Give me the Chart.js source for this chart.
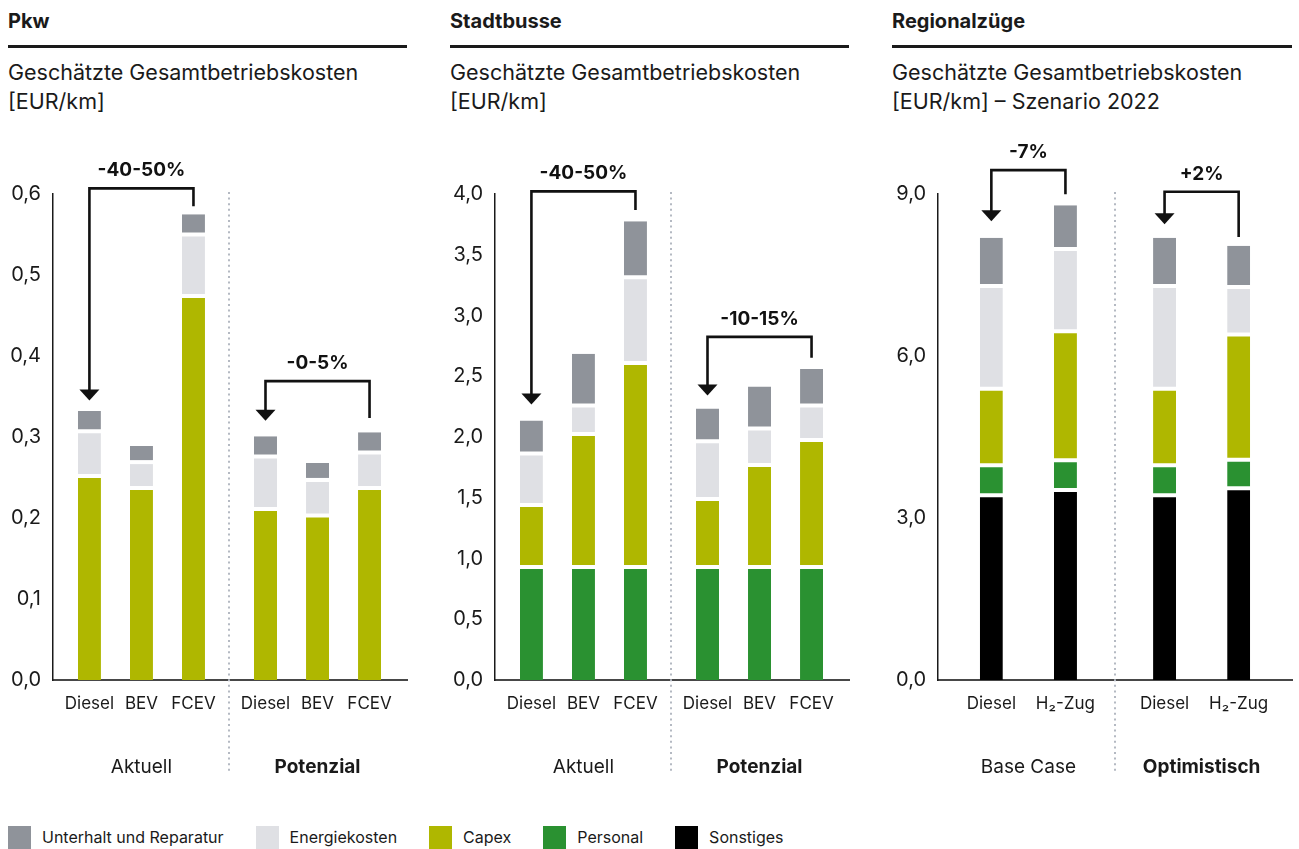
<!DOCTYPE html>
<html>
<head>
<meta charset="utf-8">
<script src="https://cdn.jsdelivr.net/npm/chart.js@4.4.1/dist/chart.umd.min.js"></script>
<style>
  html, body { margin:0; padding:0; background:#fff; }
  body { width:1299px; height:849px; position:relative; overflow:hidden; font-family: Inter, Roboto, sans-serif; color:#1a1a1a; }
  .title { position:absolute; top:8px; font-size:20px; line-height:26px; font-weight:700; }
  .rule { position:absolute; top:45px; height:3px; background:#1a1a1a; }
  .sub { position:absolute; top:58px; font-size:21.5px; line-height:29px; font-weight:400; }
  canvas.panel { position:absolute; top:0; }
  .legend { position:absolute; top:826px; left:8px; display:flex; align-items:center; }
  .legend .item { display:flex; align-items:center; margin-right:32px; }
  .legend .sw { width:23px; height:23px; margin-right:11px; }
  .legend .lt { font-size:16px; line-height:23px; }
</style>
</head>
<body>
<div class="title" style="left:8px">Pkw</div>
<div class="rule" style="left:8px;width:399px"></div>
<div class="sub" style="left:8px">Geschätzte Gesamtbetriebskosten<br>[EUR/km]</div>

<div class="title" style="left:450px">Stadtbusse</div>
<div class="rule" style="left:450px;width:399px"></div>
<div class="sub" style="left:450px">Geschätzte Gesamtbetriebskosten<br>[EUR/km]</div>

<div class="title" style="left:892px">Regionalzüge</div>
<div class="rule" style="left:892px;width:400px"></div>
<div class="sub" style="left:892px">Geschätzte Gesamtbetriebskosten<br>[EUR/km] – Szenario 2022</div>

<canvas id="c1" class="panel" style="left:0px" width="414" height="800"></canvas>
<canvas id="c2" class="panel" style="left:442px" width="414" height="800"></canvas>
<canvas id="c3" class="panel" style="left:885px" width="414" height="800"></canvas>

<div class="legend" id="legend"></div>

<script>
// ---------- DATA ----------
const seriesNames = ['Unterhalt und Reparatur', 'Energiekosten', 'Capex', 'Personal', 'Sonstiges'];

// Pkw
const pkwCategories = ['Diesel', 'BEV', 'FCEV', 'Diesel', 'BEV', 'FCEV'];
const pkwGroups = ['Aktuell', 'Potenzial'];
const pkwCapex     = [0.252, 0.237, 0.474, 0.211, 0.203, 0.237];
const pkwEnergie   = [0.055, 0.032, 0.076, 0.065, 0.044, 0.044];
const pkwUnterhalt = [0.025, 0.020, 0.025, 0.025, 0.021, 0.025];
const pkwTicks = [0, 0.1, 0.2, 0.3, 0.4, 0.5, 0.6];
const pkwArrows = [
  { from: 0, to: 2, level: 0.607, tip: 0.345, end: 0.585, label: '-40-50%' },
  { from: 3, to: 5, level: 0.369, tip: 0.320, end: 0.3235, label: '-0-5%' }
];

// Stadtbusse
const busCategories = ['Diesel', 'BEV', 'FCEV', 'Diesel', 'BEV', 'FCEV'];
const busGroups = ['Aktuell', 'Potenzial'];
const busPersonal  = [0.93, 0.93, 0.93, 0.93, 0.93, 0.93];
const busCapex     = [0.51, 1.095, 1.68, 0.56, 0.84, 1.045];
const busEnergie   = [0.425, 0.235, 0.705, 0.475, 0.30, 0.285];
const busUnterhalt = [0.27, 0.425, 0.46, 0.27, 0.345, 0.30];
const busTicks = [0, 0.5, 1.0, 1.5, 2.0, 2.5, 3.0, 3.5, 4.0];
const busArrows = [
  { from: 0, to: 2, level: 4.022, tip: 2.267, end: 3.868, label: '-40-50%' },
  { from: 3, to: 5, level: 2.824, tip: 2.341, end: 2.653, label: '-10-15%' }
];

// Regionalzüge
const trainCategories = ['Diesel', 'H\u2082-Zug', 'Diesel', 'H\u2082-Zug'];
const trainGroups = ['Base Case', 'Optimistisch'];
const trainSonstiges = [3.42, 3.52, 3.42, 3.55];
const trainPersonal  = [0.555, 0.55, 0.555, 0.53];
const trainCapex     = [1.42, 2.39, 1.42, 2.32];
const trainEnergie   = [1.90, 1.52, 1.90, 0.88];
const trainUnterhalt = [0.895, 0.81, 0.895, 0.76];
const trainTicks = [0, 3, 6, 9];
const trainArrows = [
  { from: 0, to: 1, level: 9.443, tip: 8.495, end: 8.997, label: '-7%' },
  { from: 2, to: 3, level: 9.041, tip: 8.44, end: 8.205, label: '+2%' }
];

// ---------- STYLE ----------
const COLORS = {
  'Unterhalt und Reparatur': '#8f939a',
  'Energiekosten': '#dfe0e4',
  'Capex': '#afb700',
  'Personal': '#2a9131',
  'Sonstiges': '#000000'
};
const FONT = 'Inter, Roboto, sans-serif';
const INK = '#1a1a1a';

// legend
const legendEl = document.getElementById('legend');
seriesNames.forEach(n => {
  const it = document.createElement('div'); it.className = 'item';
  const sw = document.createElement('div'); sw.className = 'sw'; sw.style.background = COLORS[n];
  const t = document.createElement('div'); t.className = 'lt'; t.textContent = n;
  it.appendChild(sw); it.appendChild(t); legendEl.appendChild(it);
});

function groupPositions(groupSize, nGroups, gap) {
  const pos = [];
  for (let g = 0; g < nGroups; g++)
    for (let i = 0; i < groupSize; i++) pos.push(g * (groupSize - 1 + gap) + i);
  return pos;
}

function gapBorder(ctx) {
  const i = ctx.dataIndex, di = ctx.datasetIndex;
  const ds = ctx.chart.data.datasets;
  const has = d => d.data[i] && d.data[i].y > 0;
  const below = ds.slice(0, di).some(has);
  const above = ds.slice(di + 1).some(has);
  return { top: above ? 2 : 0, bottom: below ? 2 : 0, left: 0, right: 0 };
}

const panelPlugin = {
  id: 'panelDecor',
  afterDatasetsDraw(chart) {
    const cfg = chart.options.plugins.panelDecor;
    const ctx = chart.ctx, xs = chart.scales.x, ys = chart.scales.y;
    const pos = cfg.positions, gs = cfg.groupSize;
    ctx.save();
    // separator
    const sx = Math.round((xs.getPixelForValue(pos[gs - 1]) + xs.getPixelForValue(pos[gs])) / 2);
    ctx.strokeStyle = '#b4b9c2';
    ctx.lineWidth = 2;
    ctx.setLineDash([2, 3.6]);
    ctx.beginPath(); ctx.moveTo(sx, 192); ctx.lineTo(sx, 774); ctx.stroke();
    ctx.setLineDash([]);
    // group labels
    ctx.fillStyle = INK;
    ctx.textAlign = 'center'; ctx.textBaseline = 'middle';
    cfg.groups.forEach((g, gi) => {
      const first = pos[gi * gs], last = pos[gi * gs + gs - 1];
      const cx = (xs.getPixelForValue(first) + xs.getPixelForValue(last)) / 2;
      ctx.font = (gi === 1 ? '700 ' : '400 ') + '19px ' + FONT;
      ctx.fillText(g, cx, 767);
    });
    // arrows
    cfg.arrows.forEach(a => {
      const xa = xs.getPixelForValue(pos[a.from]), xb = xs.getPixelForValue(pos[a.to]);
      const yl = ys.getPixelForValue(a.level), yt = ys.getPixelForValue(a.tip), ye = ys.getPixelForValue(a.end);
      ctx.strokeStyle = '#111'; ctx.fillStyle = '#111';
      ctx.lineWidth = 2.6; ctx.lineJoin = 'miter'; ctx.lineCap = 'butt';
      ctx.beginPath();
      ctx.moveTo(xb, ye); ctx.lineTo(xb, yl); ctx.lineTo(xa, yl); ctx.lineTo(xa, yt - 10);
      ctx.stroke();
      ctx.beginPath();
      ctx.moveTo(xa - 10, yt - 11); ctx.lineTo(xa + 10, yt - 11); ctx.lineTo(xa, yt); ctx.closePath();
      ctx.fill();
      ctx.font = '700 19px ' + FONT;
      ctx.textAlign = 'center'; ctx.textBaseline = 'middle';
      ctx.fillText(a.label, (xa + xb) / 2, yl - 18);
    });
    ctx.restore();
  }
};

function makePanel(id, spec) {
  const pos = groupPositions(spec.groupSize, spec.groups.length, spec.gap);
  const datasets = spec.series.map(s => ({
    label: s.name,
    data: s.values.map((v, i) => ({ x: pos[i], y: v })),
    backgroundColor: COLORS[s.name],
    borderColor: '#ffffff',
    borderWidth: gapBorder,
    borderSkipped: false,
    inflateAmount: 0,
    barThickness: 23
  }));
  const fmt = v => v.toFixed(1).replace('.', ',');
  return new Chart(document.getElementById(id), {
    type: 'bar',
    data: { datasets },
    plugins: [panelPlugin],
    options: {
      responsive: false,
      animation: false,
      devicePixelRatio: 1,
      layout: { padding: { left: 0, top: 194, right: 7, bottom: 0 } },
      plugins: {
        legend: { display: false },
        tooltip: { enabled: false },
        panelDecor: { positions: pos, groupSize: spec.groupSize, groups: spec.groups, arrows: spec.arrows }
      },
      scales: {
        x: {
          type: 'linear', stacked: true, z: 1, offset: false,
          min: pos[0] - spec.padL, max: pos[pos.length - 1] + spec.padR,
          grid: { display: false, drawTicks: false, offset: false },
          border: { display: true, color: 'rgba(25,25,25,0.8)', width: 2 },
          afterBuildTicks: ax => { ax.ticks = pos.map(v => ({ value: v })); },
          afterFit: ax => { ax.height = 120; },
          ticks: {
            autoSkip: false, maxRotation: 0, minRotation: 0, padding: 14,
            color: INK, font: { family: FONT, size: 17 },
            callback: (v, i) => spec.categories[i]
          }
        },
        y: {
          type: 'linear', stacked: true, z: 1,
          min: 0, max: spec.ticks[spec.ticks.length - 1],
          grid: { display: false, drawTicks: false },
          border: { display: true, color: '#1a1a1a', width: 1.5 },
          afterBuildTicks: ax => { ax.ticks = spec.ticks.map(v => ({ value: v })); },
          afterFit: ax => { ax.width = 53; },
          ticks: {
            padding: 12, color: INK, font: { family: FONT, size: 20 },
            callback: v => fmt(v)
          }
        }
      }
    }
  });
}

makePanel('c1', {
  categories: pkwCategories, groups: pkwGroups, groupSize: 3, gap: 72 / 52, padL: 0.70, padR: 0.72,
  ticks: pkwTicks, arrows: pkwArrows,
  series: [
    { name: 'Capex', values: pkwCapex },
    { name: 'Energiekosten', values: pkwEnergie },
    { name: 'Unterhalt und Reparatur', values: pkwUnterhalt }
  ]
});
makePanel('c2', {
  categories: busCategories, groups: busGroups, groupSize: 3, gap: 72 / 52, padL: 0.70, padR: 0.72,
  ticks: busTicks, arrows: busArrows,
  series: [
    { name: 'Personal', values: busPersonal },
    { name: 'Capex', values: busCapex },
    { name: 'Energiekosten', values: busEnergie },
    { name: 'Unterhalt und Reparatur', values: busUnterhalt }
  ]
});
makePanel('c3', {
  categories: trainCategories, groups: trainGroups, groupSize: 2, gap: 99 / 74, padL: 0.72, padR: 0.72,
  ticks: trainTicks, arrows: trainArrows,
  series: [
    { name: 'Sonstiges', values: trainSonstiges },
    { name: 'Personal', values: trainPersonal },
    { name: 'Capex', values: trainCapex },
    { name: 'Energiekosten', values: trainEnergie },
    { name: 'Unterhalt und Reparatur', values: trainUnterhalt }
  ]
});
</script>
</body>
</html>
